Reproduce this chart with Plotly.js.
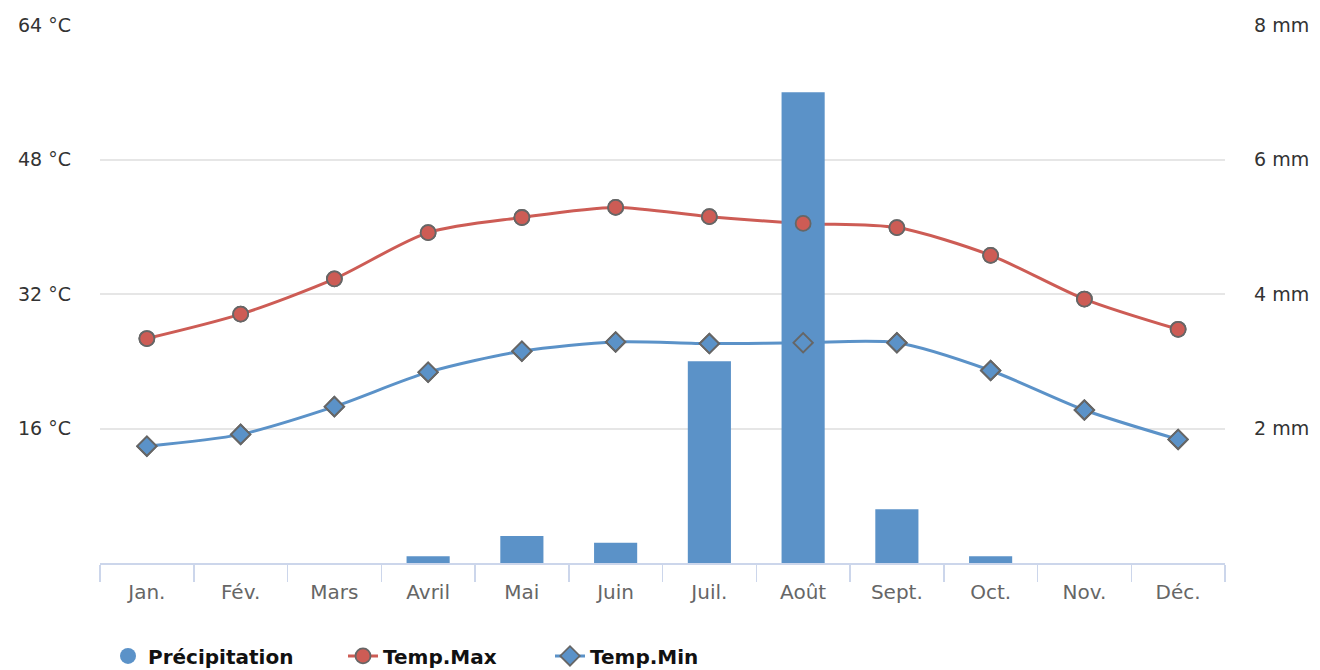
<!DOCTYPE html>
<html><head><meta charset="utf-8">
<script src="https://cdn.plot.ly/plotly-3.0.1.min.js"></script>
<style>html,body{margin:0;padding:0;background:#fff}#chart{width:1320px;height:670px}</style>
</head><body><div id="chart"></div>
<script>
const months = ["Jan.","Fév.","Mars","Avril","Mai","Juin","Juil.","Août","Sept.","Oct.","Nov.","Déc."];
const precipitation = [0,0,0,0.1,0.4,0.3,3.0,7.0,0.8,0.1,0,0];
const tempMax = [26.7,29.6,33.8,39.3,41.1,42.3,41.2,40.4,39.9,36.6,31.4,27.8];
const tempMin = [13.9,15.3,18.6,22.7,25.2,26.3,26.1,26.2,26.2,22.9,18.2,14.7];
const leftTicks = [16,32,48,64];
const leftTickText = ["16 °C","32 °C","48 °C","64 °C"];
const rightTicks = [2,4,6,8];
const rightTickText = ["2 mm","4 mm","6 mm","8 mm"];

const blue = "#5b92c8", red = "#cd5c55", grey = "#666666";
const font = "DejaVu Sans, sans-serif";
const msize = 15;

const traces = [
  {type:"scatter", x:[null], y:[null], name:"Précipitation", mode:"markers",
   marker:{symbol:"circle", size:20, color:blue}, legend:"legend", yaxis:"y2"},
  {type:"scatter", x:months, y:tempMax, name:"Temp.Max", mode:"lines+markers", legend:"legend2",
   line:{color:red, width:3, shape:"spline", smoothing:0.8},
   marker:{symbol:"circle", size:msize, color:red, line:{color:grey, width:1.8}}, yaxis:"y"},
  {type:"scatter", x:months, y:tempMin, name:"Temp.Min", mode:"lines+markers", legend:"legend3",
   line:{color:blue, width:3, shape:"spline", smoothing:0.8},
   marker:{symbol:"diamond", size:msize, color:blue, line:{color:grey, width:1.8}}, yaxis:"y"},
  {type:"bar", x:months, y:precipitation, name:"Précipitation", showlegend:false,
   marker:{color:blue}, width:0.46, yaxis:"y2"},
  {type:"scatter", x:months, y:tempMax, mode:"markers", showlegend:false, hoverinfo:"skip",
   marker:{symbol:"circle", size:msize, color:red, line:{color:grey, width:1.8}}, yaxis:"y3"},
  {type:"scatter", x:months, y:tempMin, mode:"markers", showlegend:false, hoverinfo:"skip",
   marker:{symbol:"diamond", size:msize, color:"rgba(0,0,0,0)", line:{color:grey, width:1.8}}, yaxis:"y3"}
];

const legendBase = {orientation:"h", xanchor:"left", yref:"container", y:0.021, yanchor:"middle",
  font:{family:font, size:20, color:"#111", weight:"bold"}, bgcolor:"rgba(0,0,0,0)"};

const layout = {
  width:1320, height:670,
  margin:{l:100, r:95, t:25, b:107},
  paper_bgcolor:"#fff", plot_bgcolor:"#fff",
  font:{family:font, color:"#333"},
  showlegend:true,
  legend:Object.assign({}, legendBase, {x:(108-100)/1125}),
  legend2:Object.assign({}, legendBase, {x:(343-100)/1125}),
  legend3:Object.assign({}, legendBase, {x:(550-100)/1125}),
  xaxis:{type:"category", tickson:"boundaries", ticks:"outside", ticklen:17, tickwidth:1.5,
         tickcolor:"#ccd6eb", showline:true, linecolor:"#ccd6eb", linewidth:2,
         ticklabelstandoff:10,
         showgrid:false, tickfont:{family:font, size:20, color:"#666"}, range:[-0.5,11.5]},
  yaxis:{range:[0,64], tickvals:leftTicks, ticktext:leftTickText, showgrid:true,
         gridcolor:"#e6e6e6", gridwidth:2, zeroline:false, showline:false, ticks:"",
         ticklabelstandoff:28, tickfont:{family:font, size:19, color:"#333"}, automargin:false},
  yaxis2:{range:[0,8], overlaying:"y", side:"right", tickvals:rightTicks, ticktext:rightTickText,
          showgrid:false, zeroline:false, showline:false, ticks:"", ticklabelstandoff:28,
          tickfont:{family:font, size:19, color:"#333"}, automargin:false},
  yaxis3:{range:[0,64], overlaying:"y", visible:false, showgrid:false, zeroline:false},
  bargap:0.5
};
Plotly.newPlot("chart", traces, layout, {displayModeBar:false, staticPlot:true});
</script></body></html>
